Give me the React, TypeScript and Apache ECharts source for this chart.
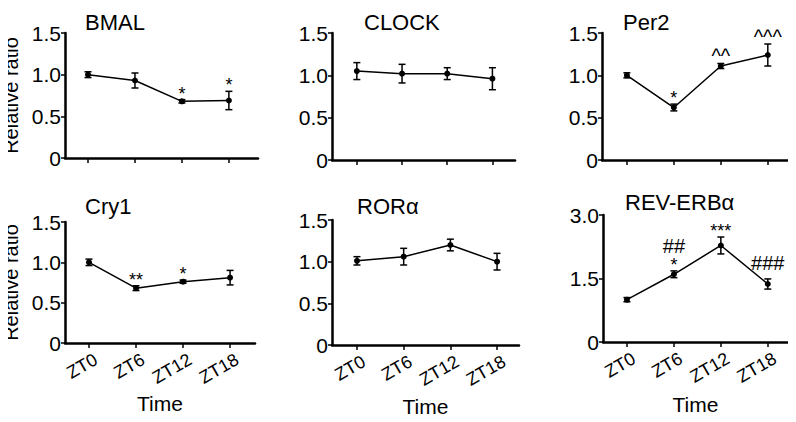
import React, { useEffect, useRef } from "react";
import * as echarts from "echarts";

const categories = ["ZT0", "ZT6", "ZT12", "ZT18"];
const titles = ["BMAL", "CLOCK", "Per2", "Cry1", "RORα", "REV-ERBα"];

const bmalMean = [1.0, 0.93, 0.68, 0.69];
const bmalErr = [0.035, 0.09, 0.02, 0.11];
const bmalMarks = ["", "", "*", "*"];

const clockMean = [1.05, 1.02, 1.02, 0.96];
const clockErr = [0.1, 0.11, 0.07, 0.13];
const clockMarks = ["", "", "", ""];

const per2Mean = [1.0, 0.62, 1.11, 1.24];
const per2Err = [0.03, 0.04, 0.03, 0.13];
const per2Marks = ["", "*", "^^", "^^^"];

const cry1Mean = [1.0, 0.68, 0.76, 0.81];
const cry1Err = [0.04, 0.03, 0.02, 0.09];
const cry1Marks = ["", "**", "*", ""];

const roraMean = [1.01, 1.06, 1.2, 1.0];
const roraErr = [0.05, 0.1, 0.07, 0.1];
const roraMarks = ["", "", "", ""];

const revMean = [1.0, 1.6, 2.28, 1.37];
const revErr = [0.05, 0.08, 0.2, 0.12];
const revMarks = ["", "##|*", "***", "###"];

const yTicksSmall = [0, 0.5, 1.0, 1.5];
const yTicksLarge = [0, 1.5, 3.0];

const means = [bmalMean, clockMean, per2Mean, cry1Mean, roraMean, revMean];
const errs = [bmalErr, clockErr, per2Err, cry1Err, roraErr, revErr];
const marks = [bmalMarks, clockMarks, per2Marks, cry1Marks, roraMarks, revMarks];
const yTicks = [yTicksSmall, yTicksSmall, yTicksSmall, yTicksSmall, yTicksSmall, yTicksLarge];

// layout (pixels)
const grids = [
  { left: 65, top: 33, width: 193, height: 125 },
  { left: 332, top: 33, width: 183, height: 127 },
  { left: 602, top: 33, width: 186, height: 127 },
  { left: 65, top: 222, width: 190, height: 121 },
  { left: 332, top: 220, width: 187, height: 125 },
  { left: 603, top: 215, width: 185, height: 127 },
];
const xRange = [
  [-0.49, 3.62],
  [-0.55, 3.5],
  [-0.53, 3.43],
  [-0.51, 3.53],
  [-0.535, 3.47],
  [-0.51, 3.43],
];
const titlePos = [
  { left: 80, top: 6 },
  { left: 359, top: 6 },
  { left: 618, top: 6 },
  { left: 80, top: 190 },
  { left: 352, top: 190 },
  { left: 620, top: 186 },
];
const timeGap = [50, 51, 52];
const LABEL_SHIFT = 0.15;
const FONT = "Liberation Sans, Arial, Helvetica, sans-serif";

export default function App() {
  const ref = useRef<HTMLDivElement>(null);
  useEffect(() => {
    if (!ref.current) return;
    const chart = echarts.init(ref.current, null, { renderer: "svg" });
    const xIdx = categories.map((_, i) => i);

    const option: any = {
      animation: false,
      backgroundColor: "#ffffff",
      textStyle: { fontFamily: FONT, color: "#000" },
      title: titles.map((t, i) => ({
        text: t,
        left: titlePos[i].left,
        top: titlePos[i].top,
        textStyle: { fontFamily: FONT, fontSize: 22, fontWeight: "normal", color: "#000" },
      })),
      grid: grids.map((g) => ({ ...g, containLabel: false, outerBoundsMode: "none" })),
      xAxis: grids.map((_, i) => {
        const bottom = i >= 3;
        return {
          type: "value",
          gridIndex: i,
          min: xRange[i][0],
          max: xRange[i][1],
          splitLine: { show: false },
          axisLine: { show: true, onZero: false, lineStyle: { color: "#000", width: 2.5 } },
          axisTick: {
            show: true,
            customValues: xIdx,
            length: 5,
            lineStyle: { color: "#000", width: 1.5 },
          },
          axisLabel: {
            show: bottom,
            customValues: xIdx.map((v) => v + LABEL_SHIFT),
            formatter: (v: number) => categories[Math.round(v - LABEL_SHIFT)] ?? "",
            rotate: 30,
            margin: 15,
            fontSize: 18,
            fontFamily: FONT,
            color: "#000",
          },
          name: bottom ? "Time" : "",
          nameLocation: "middle",
          nameGap: bottom ? timeGap[i - 3] : 0,
          nameMoveOverlap: false,
          nameTextStyle: { fontSize: 21, fontFamily: FONT, color: "#000" },
        };
      }),
      yAxis: grids.map((_, i) => {
        const t = yTicks[i];
        const left = i % 3 === 0;
        return {
          type: "value",
          gridIndex: i,
          position: "left",
          min: 0,
          max: t[t.length - 1],
          interval: t[1] - t[0],
          splitLine: { show: false },
          axisLine: { show: true, onZero: false, lineStyle: { color: "#000", width: 2.5 } },
          axisTick: { show: true, length: 4, lineStyle: { color: "#000", width: 1.5 } },
          axisLabel: {
            formatter: (v: number) => (v === 0 ? "0" : v.toFixed(1)),
            fontSize: 21,
            fontFamily: FONT,
            color: "#000",
            margin: 4,
          },
          name: left ? "Relative ratio" : "",
          nameLocation: "middle",
          nameRotate: 90,
          nameGap: 44,
          nameMoveOverlap: false,
          nameTextStyle: { fontSize: 20, fontFamily: FONT, color: "#000" },
        };
      }),
      series: [] as any[],
    };

    for (let i = 0; i < 6; i++) {
      option.series.push({
        type: "line",
        xAxisIndex: i,
        yAxisIndex: i,
        data: means[i].map((m, k) => [k, m]),
        symbol: "circle",
        symbolSize: 6,
        lineStyle: { color: "#000", width: 1.5 },
        itemStyle: { color: "#000" },
        z: 3,
      });
      option.series.push({
        type: "custom",
        xAxisIndex: i,
        yAxisIndex: i,
        data: means[i].map((m, k) => [k, m, errs[i][k], k]),
        renderItem: (params: any, api: any) => {
          const x = api.value(0);
          const m = api.value(1);
          const e = api.value(2);
          const k = api.value(3);
          const top = api.coord([x, m + e]);
          const bot = api.coord([x, m - e]);
          const cap = 3.5;
          const lineStyle = { stroke: "#000", lineWidth: 1.5 };
          const children: any[] = [
            { type: "line", shape: { x1: top[0], y1: top[1], x2: bot[0], y2: bot[1] }, style: lineStyle },
            { type: "line", shape: { x1: top[0] - cap, y1: top[1], x2: top[0] + cap, y2: top[1] }, style: lineStyle },
            { type: "line", shape: { x1: bot[0] - cap, y1: bot[1], x2: bot[0] + cap, y2: bot[1] }, style: lineStyle },
          ];
          const txt = marks[i][k];
          if (txt) {
            const parts = txt.split("|").reverse();
            let y = top[1] + 3;
            parts.forEach((p, j) => {
              const isStar = p.indexOf("*") >= 0;
              const isHash = p.indexOf("#") >= 0;
              const yy = j === 0 && isHash ? y - 9 : y;
              children.push({
                type: "text",
                x: top[0],
                y: yy,
                style: {
                  text: p,
                  textAlign: "center",
                  textVerticalAlign: "bottom",
                  fontSize: isStar ? 18 : 20,
                  fontFamily: FONT,
                  fill: "#000",
                },
              });
              y -= 18;
            });
          }
          return { type: "group", children };
        },
        z: 4,
      });
    }

    chart.setOption(option);
    return () => chart.dispose();
  }, []);

  return <div ref={ref} style={{ width: 796, height: 422, margin: -8 }} />;
}
